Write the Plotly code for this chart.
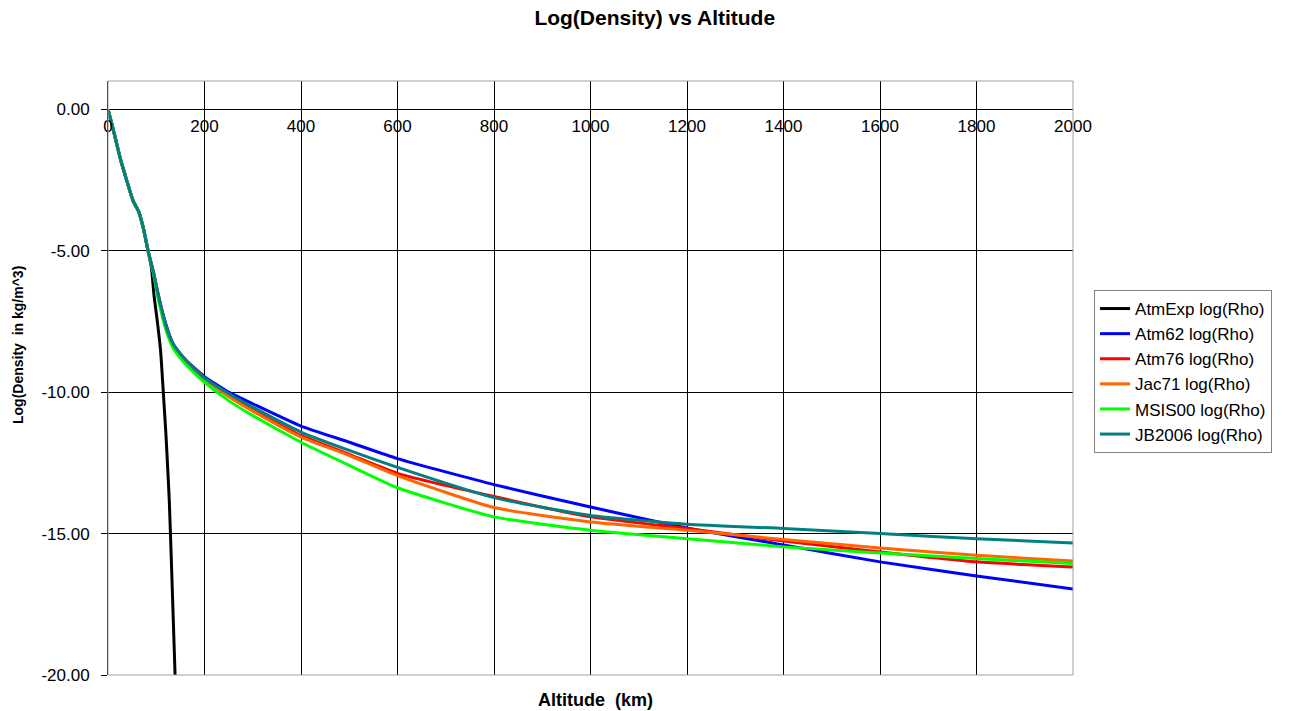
import plotly.graph_objects as go

# ---------------- data ----------------
alt_exp = [0, 11, 25, 39, 52, 63, 73, 83, 90, 95.5, 102, 109, 114.6, 120, 123.6, 127, 131, 135, 139]
rho_exp = [0, -0.73, -1.71, -2.53, -3.24, -3.59, -4.18, -5.0, -5.6, -6.6, -7.47, -8.53, -10.0,
           -11.47, -12.65, -13.83, -15.8, -17.9, -20.0]

alt = [0, 11, 25, 39, 52, 63, 73, 83, 94, 104, 120, 135, 160, 200, 250, 300, 400, 500, 600,
       800, 1000, 1200, 1400, 1600, 1800, 2000]

atm62 = [0, -0.73, -1.71, -2.53, -3.24, -3.59, -4.18, -5.0, -5.75, -6.55, -7.6, -8.3, -8.85,
         -9.45, -10.0, -10.41, -11.2, -11.77, -12.35, -13.27, -14.06, -14.8, -15.4, -16.0, -16.5, -16.96]
atm76 = [0, -0.73, -1.71, -2.53, -3.24, -3.59, -4.18, -5.0, -5.75, -6.55, -7.65, -8.3, -8.85,
         -9.5, -10.1, -10.63, -11.53, -12.2, -12.87, -13.69, -14.41, -14.82, -15.26, -15.65, -16.0, -16.18]
jac71 = [0, -0.73, -1.71, -2.53, -3.24, -3.59, -4.18, -5.0, -5.75, -6.6, -7.7, -8.35, -8.9,
         -9.55, -10.15, -10.67, -11.59, -12.24, -12.95, -14.08, -14.59, -14.88, -15.21, -15.51, -15.77, -15.97]
msis00 = [0, -0.73, -1.71, -2.53, -3.24, -3.59, -4.18, -5.0, -5.8, -6.7, -7.8, -8.45, -9.0,
          -9.65, -10.3, -10.83, -11.77, -12.59, -13.38, -14.41, -14.88, -15.18, -15.47, -15.69, -15.88, -16.06]
jb2006 = [0, -0.73, -1.71, -2.53, -3.24, -3.59, -4.18, -5.0, -5.75, -6.55, -7.65, -8.3, -8.85,
          -9.5, -10.05, -10.53, -11.41, -12.06, -12.66, -13.73, -14.36, -14.67, -14.82, -15.0, -15.18, -15.33]

names = ["AtmExp log(Rho)", "Atm62 log(Rho)", "Atm76 log(Rho)", "Jac71 log(Rho)",
         "MSIS00 log(Rho)", "JB2006 log(Rho)"]
colors = ["#000000", "#0000FF", "#FF0000", "#FF6600", "#00FF00", "#008080"]

x_ticks = [0, 200, 400, 600, 800, 1000, 1200, 1400, 1600, 1800, 2000]
y_ticks = [0, -5, -10, -15, -20]
y_ticktext = ["0.00", "-5.00", "-10.00", "-15.00", "-20.00"]

FONT = "Liberation Sans, Arial, sans-serif"

fig = go.Figure()
series = [(alt_exp, rho_exp), (alt, atm62), (alt, atm76), (alt, jac71), (alt, msis00), (alt, jb2006)]
for i, ((xs, ys), n, c) in enumerate(zip(series, names, colors)):
    fig.add_trace(go.Scatter(x=xs, y=ys, name=n, mode="lines",
                             line=dict(color=c, width=3, shape="spline", smoothing=0.5),
                             legendgroup=str(i)))

fig.update_layout(
    width=1294, height=711,
    margin=dict(l=108, r=221, t=81, b=36),
    plot_bgcolor="white", paper_bgcolor="white",
    font=dict(family=FONT, size=15, color="black"),
    title=dict(text="<b>Log(Density) vs Altitude</b>", x=0.506, xref="container",
               y=1 - 18 / 711, yref="container", xanchor="center", yanchor="middle",
               font=dict(size=21, family=FONT, color="black")),
    xaxis=dict(range=[0, 2000], tickvals=x_ticks, showgrid=True, gridcolor="#000000", gridwidth=1,
               anchor="free", position=20 / 21, side="bottom", showline=False, zeroline=False,
               ticks="", ticklabelstandoff=5, tickfont=dict(size=17, family=FONT)),
    yaxis=dict(range=[-20, 1], tickvals=y_ticks, ticktext=y_ticktext, showgrid=True,
               gridcolor="#000000", gridwidth=1, zeroline=False, showline=True,
               linecolor="#000000", linewidth=1, ticks="outside", ticklen=6, tickcolor="#000000",
               ticklabelstandoff=8, tickfont=dict(size=17, family=FONT)),
    legend=dict(x=1.0218, y=(675 - 290) / 594, xanchor="left", yanchor="top", bordercolor="#808080",
                borderwidth=1, bgcolor="white", font=dict(size=17, family=FONT),
                traceorder="grouped", tracegroupgap=0),
    showlegend=True,
    shapes=[dict(type="rect", xref="paper", yref="paper", x0=0, x1=1, y0=0, y1=1,
                 line=dict(color="#A0A0A0", width=1), fillcolor="rgba(0,0,0,0)", layer="above")],
    annotations=[
        dict(text="<b>Altitude  (km)</b>", xref="paper", yref="paper", x=(595 - 108) / 965,
             y=(675 - 700) / 594, xanchor="center", yanchor="middle", showarrow=False,
             font=dict(size=18, family=FONT)),
        dict(text="<b>Log(Density  in kg/m^3)</b>", xref="paper", yref="paper", x=(18 - 108) / 965,
             y=(675 - 345) / 594, xanchor="center", yanchor="middle", showarrow=False,
             textangle=-90, font=dict(size=14, family=FONT)),
    ],
)

fig.write_html("out.html", config={"displayModeBar": False},
               post_script="document.body.style.margin='0';document.body.style.padding='0';")
